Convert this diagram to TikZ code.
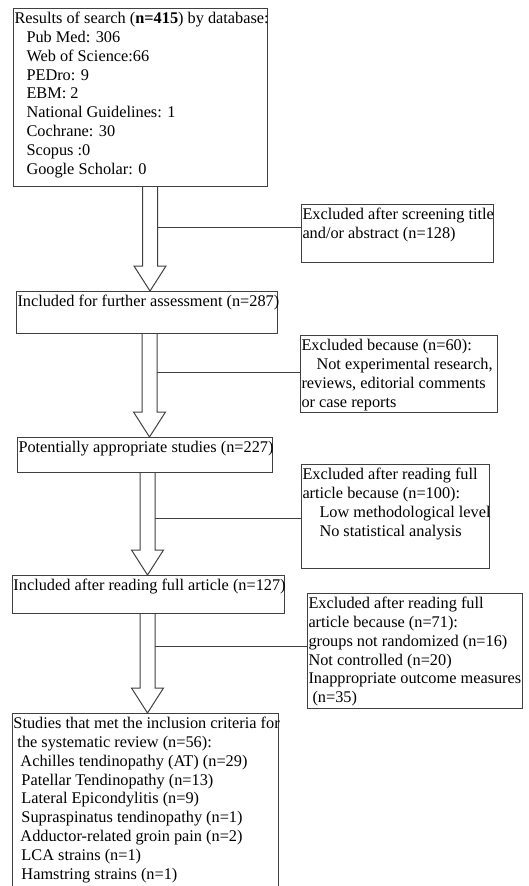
\documentclass[tikz,border=0pt]{standalone}
\usepackage{fontspec}
\setmainfont{Liberation Serif}
\usepackage{tikz}
\usetikzlibrary{calc}

\tikzset{
  flowbox/.style={draw=black!75, line width=1pt, inner sep=0pt, anchor=north west,
    font=\fontsize{16.3}{18.8}\selectfont},
  blockline/.style={draw=black!75, line width=1pt, fill=white},
  sideline/.style={draw=black!75, line width=1pt},
}
% fixed size box, text from the top left corner
\newcommand{\boxtext}[3]{\parbox[t][#2][t]{#1}{\vspace*{2pt}\begin{tabular}[t]{@{\hspace{1pt}}l@{}}#3\end{tabular}}}
% hollow arrow from #1 down to #2 in column #3
\newcommand{\blockarrow}[3]{%
  \draw[blockline] ($(#1.south -| #3)+(-7.5,0)$) -- ($(#2.north -| #3)+(-7.5,-25)$)
    -- ($(#2.north -| #3)+(-16,-25)$) -- (#2.north -| #3)
    -- ($(#2.north -| #3)+(16,-25)$) -- ($(#2.north -| #3)+(7.5,-25)$)
    -- ($(#1.south -| #3)+(7.5,0)$);}

\begin{document}
\begin{tikzpicture}[x=1pt,y=-1pt]
    \useasboundingbox (0,0) rectangle (528,886);

    % Arrow columns
    \coordinate (col1) at (150,0);
    \coordinate (col2) at (149.5,0);
    \coordinate (col3) at (147.5,0);

    % Main boxes
    \node[flowbox] (search) at (13,8) {\boxtext{254pt}{178pt}{%
      Results of search (\textbf{n=415}) by database:\\
      \hspace{12pt}Pub Med: 306\\
      \hspace{12pt}Web of Science:66\\
      \hspace{12pt}PEDro: 9\\
      \hspace{12pt}EBM: 2\\
      \hspace{12pt}National Guidelines: 1\\
      \hspace{12pt}Cochrane: 30\\
      \hspace{12pt}Scopus :0\\
      \hspace{12pt}Google Scholar: 0}};
    \node[flowbox] (further) at (16,291) {\boxtext{261pt}{42pt}{%
      Included for further assessment (n=287)}};
    \node[flowbox] (potential) at (17,437) {\boxtext{255pt}{35pt}{%
      Potentially appropriate studies (n=227)}};
    \node[flowbox] (fullart) at (12,575) {\boxtext{272pt}{38pt}{%
      Included after reading full article (n=127)}};
    \node[flowbox] (included) at (12,713) {\boxtext{266pt}{180pt}{%
      Studies that met the inclusion criteria for\\
      \hspace{4pt}the systematic review (n=56):\\
      \hspace{7pt}Achilles tendinopathy (AT) (n=29)\\
      \hspace{8pt}Patellar Tendinopathy (n=13)\\
      \hspace{8pt}Lateral Epicondylitis (n=9)\\
      \hspace{8pt}Supraspinatus tendinopathy (n=1)\\
      \hspace{7pt}Adductor-related groin pain (n=2)\\
      \hspace{8pt}LCA strains (n=1)\\
      \hspace{8pt}Hamstring strains (n=1)}};

    % Exclusion boxes
    \node[flowbox] (excl1) at (301,204) {\boxtext{192pt}{58pt}{%
      Excluded after screening title\\
      and/or abstract (n=128)}};
    \node[flowbox] (excl2) at (300,335) {\boxtext{197pt}{77pt}{%
      Excluded because (n=60):\\
      \hspace{15pt}Not experimental research,\\
      reviews, editorial comments\\
      or case reports}};
    \node[flowbox] (excl3) at (301,464) {\boxtext{188pt}{104pt}{%
      Excluded after reading full\\
      article because (n=100):\\
      \hspace{17pt}Low methodological level\\
      \hspace{17pt}No statistical analysis}};
    \node[flowbox] (excl4) at (307,593) {\boxtext{215pt}{115pt}{%
      Excluded after reading full\\
      article because (n=71):\\
      groups not randomized (n=16)\\
      Not controlled (n=20)\\
      Inappropriate outcome measures\\
      \hspace{4pt}(n=35)}};

    % Hollow arrows
    \blockarrow{search}{further}{col1}
    \blockarrow{further}{potential}{col2}
    \blockarrow{potential}{fullart}{col3}
    \blockarrow{fullart}{included}{col3}

    % Side lines
    \draw[sideline] ($(excl1.west)+(0,-6)$) -- ($(col1 |- excl1.west)+(7.5,-6)$);
    \draw[sideline] ($(excl2.west)+(0,-2)$) -- ($(col2 |- excl2.west)+(7.5,-2)$);
    \draw[sideline] ($(excl3.west)+(0,2)$) -- ($(col3 |- excl3.west)+(7.5,2)$);
    \draw[sideline] ($(excl4.west)+(0,-5)$) -- ($(col3 |- excl4.west)+(7.5,-5)$);
\end{tikzpicture}
\end{document}
